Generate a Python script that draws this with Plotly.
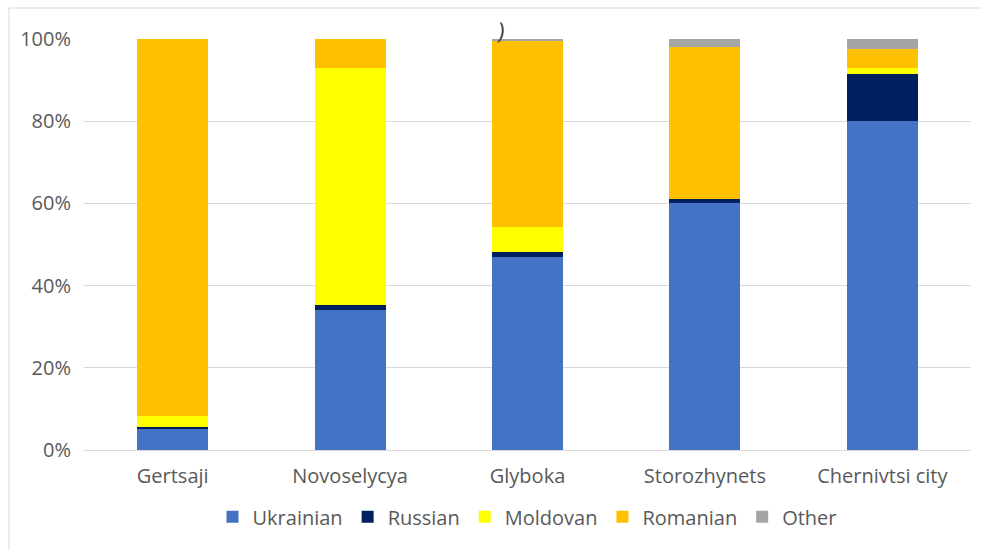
import plotly.graph_objects as go

# Ethnic composition by district, percent of population
districts = ["Gertsaji", "Novoselycya", "Glyboka", "Storozhynets", "Chernivtsi city"]
ukrainian = [5.0, 34.1, 47.0, 60.0, 80.1]
russian = [0.7, 1.2, 1.1, 1.0, 11.3]
moldovan = [2.6, 57.7, 6.1, 0.0, 1.6]
romanian = [91.7, 7.0, 45.3, 37.1, 4.5]
other = [0.0, 0.0, 0.5, 1.9, 2.5]

series = [
    ("Ukrainian", ukrainian, "#4472C4"),
    ("Russian", russian, "#002060"),
    ("Moldovan", moldovan, "#FFFF00"),
    ("Romanian", romanian, "#FFC000"),
    ("Other", other, "#A5A5A5"),
]

W, H = 981, 549
L, R, T, B = 84, 10, 39, 99
pw, ph = W - L - R, H - T - B

fig = go.Figure()
for name, vals, color in series:
    fig.add_trace(go.Bar(
        name=name, x=districts, y=vals,
        marker=dict(color=color, line=dict(width=0)),
    ))

text_color = "#595959"
grid = "#D9D9D9"
font = "Open Sans, Noto Sans, sans-serif"

# light frame along the top and left edge
def px_to_paper_x(px):
    return (px - L) / pw

def px_to_paper_y(py):
    return (H - B - py) / ph

fig.add_shape(type="line", xref="paper", yref="paper",
              x0=px_to_paper_x(9), x1=px_to_paper_x(W), y0=px_to_paper_y(8), y1=px_to_paper_y(8),
              line=dict(color=grid, width=1))
fig.add_shape(type="line", xref="paper", yref="paper",
              x0=px_to_paper_x(9), x1=px_to_paper_x(9), y0=px_to_paper_y(8), y1=px_to_paper_y(H),
              line=dict(color=grid, width=1))

# stray bracket just above the Glyboka column
fig.add_annotation(text=")", x=px_to_paper_x(501), y=px_to_paper_y(30),
                   xref="paper", yref="paper", xanchor="center", yanchor="middle",
                   showarrow=False, font=dict(size=23, color="#404040", family=font),
                   textangle=8)

fig.update_layout(
    width=W, height=H,
    barmode="stack", bargap=0.6,
    margin=dict(l=L, r=R, t=T, b=B, autoexpand=False),
    paper_bgcolor="white", plot_bgcolor="white",
    font=dict(family=font, size=20, color=text_color),
    showlegend=True,
    legend=dict(orientation="h", x=0.5, xanchor="center", y=-0.115, yanchor="top",
                font=dict(size=20, color=text_color), traceorder="normal",
                itemwidth=30, entrywidthmode="pixels"),
    xaxis=dict(showgrid=False, showline=False, ticks="", tickfont=dict(size=20, color=text_color),
               ticklabelstandoff=12, fixedrange=True),
    yaxis=dict(range=[0, 100], dtick=20, ticksuffix="%", showgrid=True, gridcolor=grid,
               gridwidth=1, zeroline=True, zerolinecolor=grid, zerolinewidth=1,
               showline=False, ticks="", tickfont=dict(size=20, color=text_color),
               ticklabelstandoff=12, fixedrange=True),
)

fig.write_html("out.html")
